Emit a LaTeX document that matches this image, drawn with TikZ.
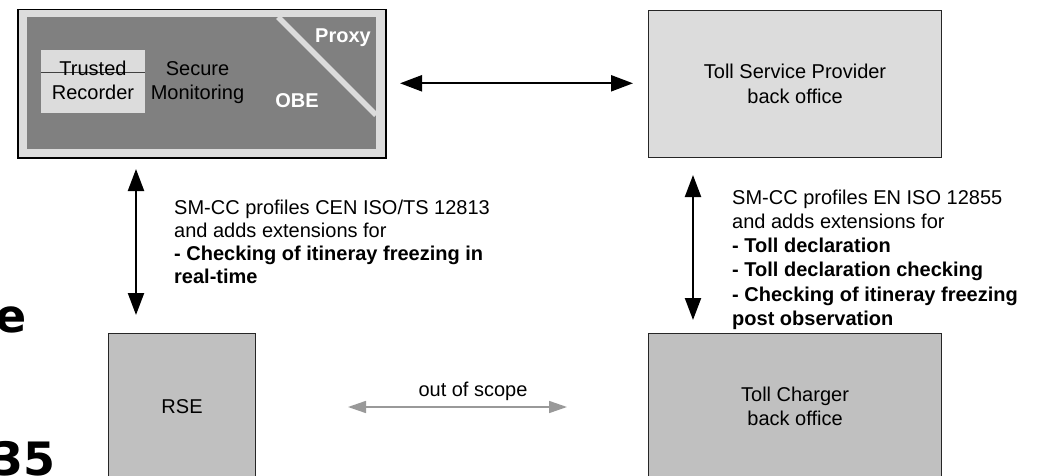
\documentclass[tikz,border=0pt]{standalone}
\usepackage{fontspec}
\setmainfont{Liberation Sans}
\newfontfamily\bigfont{DejaVu Sans}
\usetikzlibrary{arrows.meta}
\definecolor{lightbox}{HTML}{DCDCDC}
\definecolor{midbox}{HTML}{C0C0C0}
\definecolor{darkbox}{HTML}{808080}
\definecolor{scopegray}{HTML}{999999}
\begin{document}
\begin{tikzpicture}[x=1pt,y=-1pt,
  txt/.style={font=\fontsize{20}{24}\selectfont, inner sep=0pt, anchor=base},
  wtxt/.style={txt, font=\fontsize{20}{24}\selectfont\bfseries, text=white},
  boxtext/.style={font=\fontsize{20}{24.5}\selectfont, align=center},
  plainbox/.style={draw=black!85, line width=1.1pt, inner sep=0pt, anchor=north west},
  note/.style={font=\fontsize{20}{#1}\selectfont, inner sep=0pt, align=left, anchor=base west},
  biglink/.style={line width=2.2pt, black, {Triangle[length=22pt,width=16pt]}-{Triangle[length=22pt,width=16pt]}},
  graylink/.style={line width=1.6pt, scopegray, {Triangle[length=18pt,width=12pt]}-{Triangle[length=18pt,width=12pt]}},
  bigtext/.style={font=\bigfont\bfseries\fontsize{46}{50}\selectfont, inner sep=0pt, anchor=base east}
]
\path[use as bounding box] (0,0) rectangle (1041,476);
\clip (0,0) rectangle (1041,476);

% stray large text at the left
\node[bigtext] (bige) at (27,332) {e};
\node[bigtext] (big35) at (56,475.5) {35};

% OBE
\node[draw=black, line width=1.5pt, fill=lightbox, minimum width=368pt, minimum height=148pt, inner sep=0pt, anchor=north west] (obe) at (17,9) {};
\fill[darkbox] (27,17) rectangle (376,149);
\begin{scope}
  \clip (27,17) rectangle (376,149);
  \draw[lightbox, line width=5.5pt] (278,17) -- (376,115);
\end{scope}
\node[fill=lightbox, minimum width=104pt, minimum height=63pt, inner sep=0pt, anchor=north west] (tr) at (41,50) {};
\draw[black!75, line width=0.8pt] ([yshift=-22pt]tr.north west) -- ([yshift=-22pt]tr.north east);
\node[txt] (trusted) at (93,76) {Trusted};
\node[txt] (recorder) at (93,100) {Recorder};
\node[txt] (secure) at (197.5,76) {Secure};
\node[txt] (monitoring) at (197.5,100) {Monitoring};
\node[wtxt] (proxy) at (343,42.5) {Proxy};
\node[wtxt] (obelabel) at (297,108) {OBE};

% other boxes
\node[plainbox, fill=lightbox, minimum width=293pt, minimum height=147pt, boxtext] (tsp) at (648,10) {Toll Service Provider\\back office};
\node[plainbox, fill=midbox, minimum width=293pt, minimum height=146pt, boxtext] (tc) at (648,333) {Toll Charger\\back office};
\node[plainbox, fill=midbox, minimum width=147pt, minimum height=146pt, boxtext] (rse) at (108,333) {RSE};

% connectors
\coordinate (h1) at (400,83.3);
\coordinate (h2) at (633,83.3);
\draw[biglink] (h1) -- (h2);
\coordinate (vl1) at (136,169);
\coordinate (vl2) at (136,315);
\draw[biglink] (vl1) -- (vl2);
\coordinate (vr1) at (693,175);
\coordinate (vr2) at (693,320);
\draw[biglink] (vr1) -- (vr2);
\coordinate (g1) at (348,407);
\coordinate (g2) at (567,407);
\draw[graylink] (g1) -- (g2);
\node[txt] (oos) at (473,396) {out of scope};

% annotations (base anchor = baseline of the last line)
\node[note=23] (noteleft) at (174,283.5) {SM-CC profiles CEN ISO/TS 12813\\and adds extensions for\\\textbf{- Checking of itineray freezing in}\\\textbf{real-time}};
\node[note=24.3] (noteright) at (732,325.5) {SM-CC profiles EN ISO 12855\\and adds extensions for\\\textbf{- Toll declaration}\\\textbf{- Toll declaration checking}\\\textbf{- Checking of itineray freezing}\\\textbf{post observation}};
\end{tikzpicture}
\end{document}
